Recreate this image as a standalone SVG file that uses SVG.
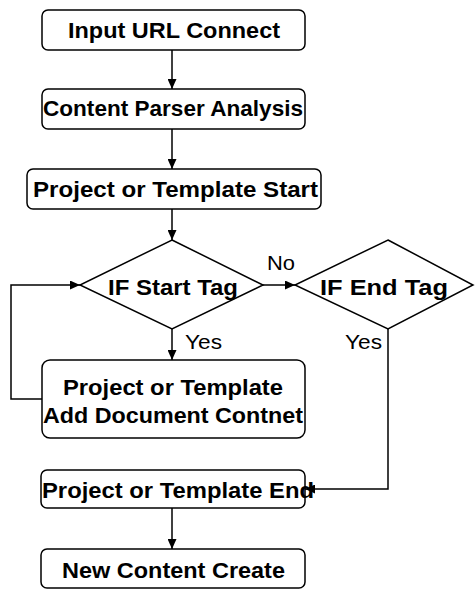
<svg xmlns="http://www.w3.org/2000/svg" width="476" height="590" viewBox="0 0 476 590">
<style>
.box{fill:#fff;stroke:#000;stroke-width:1.5}
.t{font-family:"Liberation Sans",Arial,sans-serif;font-weight:bold;font-size:22px;fill:#000}
.l{font-family:"Liberation Sans",Arial,sans-serif;font-size:20px;fill:#000}
.c{fill:none;stroke:#000;stroke-width:1.5}
</style>
<defs>
<marker id="ah" markerUnits="userSpaceOnUse" markerWidth="10" markerHeight="9" refX="10" refY="4.5" orient="auto">
<path d="M0,0 L10,4.5 L0,9 z" fill="#000"/>
</marker>
</defs>
<rect width="476" height="590" fill="#fff"/>
<g id="connectors">
<path class="c" d="M172,50 V89" marker-end="url(#ah)"/>
<path class="c" d="M172,129 V169" marker-end="url(#ah)"/>
<path class="c" d="M172,209 V240" marker-end="url(#ah)"/>
<path class="c" d="M263,285 H295" marker-end="url(#ah)"/>
<path class="c" d="M172,329 V360" marker-end="url(#ah)"/>
<path class="c" d="M42,399 H11 V285 H80" marker-end="url(#ah)"/>
<path class="c" d="M388,329 V489 H305" marker-end="url(#ah)"/>
<path class="c" d="M172,508 V549" marker-end="url(#ah)"/>
<text class="l" x="267" y="270" textLength="28" lengthAdjust="spacingAndGlyphs">No</text>
<text class="l" x="185" y="349" textLength="37" lengthAdjust="spacingAndGlyphs">Yes</text>
<text class="l" x="345" y="349" textLength="37" lengthAdjust="spacingAndGlyphs">Yes</text>
</g>
<g id="n1">
<rect class="box" x="42" y="10" width="263" height="40" rx="6"/>
<text class="t" x="68" y="38" textLength="212" lengthAdjust="spacingAndGlyphs">Input URL Connect</text>
</g>
<g id="n2">
<rect class="box" x="42" y="89" width="263" height="40" rx="6"/>
<text class="t" x="43" y="116" textLength="260" lengthAdjust="spacingAndGlyphs">Content Parser Analysis</text>
</g>
<g id="n3">
<rect class="box" x="27" y="169" width="294" height="40" rx="6"/>
<text class="t" x="33" y="197" textLength="285" lengthAdjust="spacingAndGlyphs">Project or Template Start</text>
</g>
<g id="d1">
<polygon class="box" points="172,240 263,285 172,329 80,285"/>
<text class="t" x="108" y="295" textLength="130" lengthAdjust="spacingAndGlyphs">IF Start Tag</text>
</g>
<g id="d2">
<polygon class="box" points="388,240 473,285 388,329 295,285"/>
<text class="t" x="320" y="295" textLength="128" lengthAdjust="spacingAndGlyphs">IF End Tag</text>
</g>
<g id="n4">
<rect class="box" x="42" y="360" width="263" height="78" rx="8"/>
<text class="t" x="63" y="395" textLength="220" lengthAdjust="spacingAndGlyphs">Project or Template</text>
<text class="t" x="43" y="423" textLength="260" lengthAdjust="spacingAndGlyphs">Add Document Contnet</text>
</g>
<g id="n5">
<rect class="box" x="41" y="470" width="264" height="38" rx="6"/>
<text class="t" x="42" y="498" textLength="272" lengthAdjust="spacingAndGlyphs">Project or Template End</text>
</g>
<g id="n6">
<rect class="box" x="41" y="549" width="264" height="39" rx="6"/>
<text class="t" x="62" y="578" textLength="223" lengthAdjust="spacingAndGlyphs">New Content Create</text>
</g>
</svg>
